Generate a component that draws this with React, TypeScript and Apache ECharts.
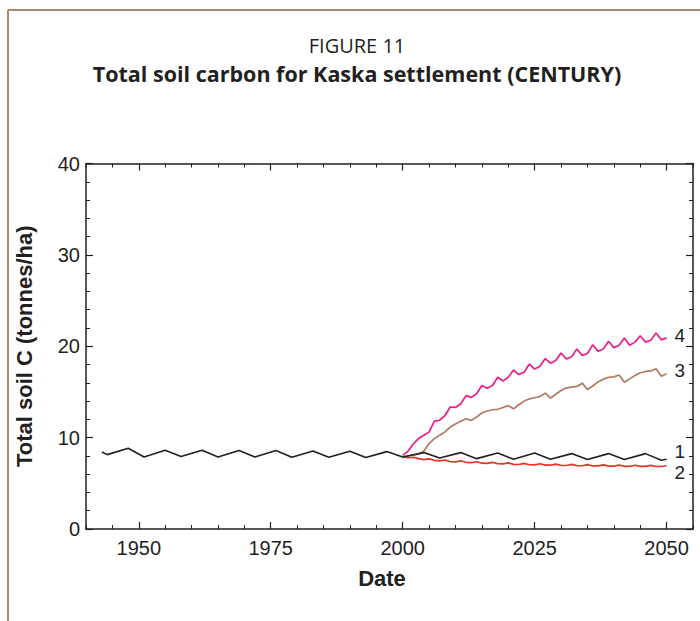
import React, { useEffect, useRef } from "react";
import * as echarts from "echarts";

// Historical (shared) trajectory, vertices of the black line before 2000
const histYears = [1943, 1944, 1948, 1951, 1955, 1958, 1962, 1965, 1969, 1972, 1976, 1979, 1983, 1986, 1990, 1993, 1997];
const histValues = [8.43, 8.14, 8.83, 7.88, 8.61, 7.93, 8.61, 7.88, 8.58, 7.88, 8.58, 7.85, 8.54, 7.85, 8.5, 7.82, 8.47];

// Scenario 1 (black) vertices from 2000
const s1Years = [2000, 2004, 2007, 2011, 2014, 2018, 2021, 2025, 2028, 2032, 2035, 2039, 2042, 2046, 2049, 2050];
const s1Values = [7.88, 8.36, 7.78, 8.36, 7.7, 8.32, 7.63, 8.32, 7.63, 8.25, 7.6, 8.25, 7.6, 8.25, 7.52, 7.63];

// Annual scenarios 2000..2050
const scenYears = Array.from({ length: 51 }, (_, i) => 2000 + i);
const s2Values = [
  7.88, 7.8, 7.85, 7.7, 7.6, 7.68, 7.52, 7.45, 7.55, 7.38, 7.35, 7.45, 7.3, 7.25, 7.36, 7.2, 7.18,
  7.3, 7.15, 7.12, 7.24, 7.08, 7.06, 7.18, 7.03, 7.02, 7.14, 6.99, 6.98, 7.1, 6.96, 6.95, 7.07, 6.93,
  6.92, 7.04, 6.9, 6.9, 7.02, 6.88, 6.88, 7.0, 6.86, 6.86, 6.98, 6.85, 6.85, 6.97, 6.84, 6.84, 6.95,
];
const s3Values = [
  7.88, 7.99, 8.1, 8.2, 8.5, 9.35, 9.89, 10.25, 10.62, 11.16, 11.5, 11.8, 12.07, 11.89, 12.26, 12.69,
  12.91, 13.05, 13.1, 13.3, 13.5, 13.15, 13.6, 14.0, 14.25, 14.36, 14.5, 14.87, 14.32, 14.75, 15.16,
  15.45, 15.53, 15.6, 15.96, 15.27, 15.65, 16.1, 16.4, 16.6, 16.65, 16.85, 16.07, 16.43, 16.8, 17.1,
  17.24, 17.3, 17.53, 16.72, 16.98,
];
const s4Values = [
  8.05, 8.5, 9.3, 9.9, 10.25, 10.6, 11.8, 11.9, 12.4, 13.35, 13.3, 13.7, 14.6, 14.4, 14.8, 15.7, 15.4,
  15.7, 16.6, 16.2, 16.6, 17.4, 16.9, 17.15, 18.05, 17.5, 17.8, 18.65, 18.15, 18.45, 19.25, 18.6, 18.85,
  19.7, 19.0, 19.2, 20.15, 19.45, 19.7, 20.55, 19.85, 20.1, 20.9, 20.1, 20.45, 21.15, 20.45, 20.65,
  21.45, 20.7, 20.92,
];

const xMajorTicks = [1950, 1975, 2000, 2025, 2050];
const seriesNames = ["1", "2", "3", "4"];

const pairs = (xs: number[], ys: number[]) => xs.map((x, i) => [x, ys[i]]);

const INK = "#231f20";

export default function App() {
  const ref = useRef<HTMLDivElement>(null);
  useEffect(() => {
    if (!ref.current) return;
    const chart = echarts.init(ref.current, null, { renderer: "svg" });
    const axisFont = "'Liberation Sans', Arial, sans-serif";
    const titleFont = "'Open Sans', 'Noto Sans', sans-serif";
    const baseX = {
      type: "value",
      min: 1940,
      max: 2055,
      gridIndex: 0,
      splitLine: { show: false },
    };
    const endLabel = (dy: number) => ({
      show: true,
      formatter: "{a}",
      color: INK,
      fontSize: 19,
      lineHeight: 17,
      fontFamily: axisFont,
      offset: [0, dy],
      distance: 8,
    });
    chart.setOption({
      animation: false,
      backgroundColor: "#ffffff",
      title: [
        {
          text: "FIGURE 11",
          left: 357,
          textAlign: "center",
          top: 35,
          padding: 0,
          textStyle: { fontFamily: titleFont, fontWeight: "normal", fontSize: 20, color: INK },
        },
        {
          text: "Total soil carbon for Kaska settlement (CENTURY)",
          left: 357,
          textAlign: "center",
          top: 62,
          padding: 0,
          textStyle: { fontFamily: titleFont, fontWeight: "bold", fontSize: 21.5, color: INK },
        },
      ],
      grid: { left: 86, right: 7, top: 163.5, bottom: 92 },
      xAxis: [
        {
          ...baseX,
          position: "bottom",
          name: "Date",
          nameLocation: "middle",
          nameGap: 38,
          nameTextStyle: { fontFamily: axisFont, fontWeight: "bold", fontSize: 22, color: INK, padding: [0, 15, 0, 0] },
          axisLine: { show: true, lineStyle: { color: INK, width: 1.5 } },
          axisTick: { show: true, inside: true, length: 7, customValues: xMajorTicks, lineStyle: { color: INK, width: 1.2 } },
          axisLabel: {
            show: true,
            customValues: xMajorTicks,
            margin: 9,
            fontFamily: axisFont,
            fontSize: 20,
            color: INK,
            formatter: (v: number) => String(v),
          },
        },
        {
          ...baseX,
          position: "bottom",
          interval: 5,
          axisLine: { show: false },
          axisTick: { show: true, inside: true, length: 4, lineStyle: { color: INK, width: 1 } },
          axisLabel: { show: false },
        },
        {
          ...baseX,
          position: "top",
          axisLine: { show: true, lineStyle: { color: INK, width: 1.5 } },
          axisTick: { show: true, inside: true, length: 7, customValues: xMajorTicks, lineStyle: { color: INK, width: 1.2 } },
          axisLabel: { show: false },
        },
        {
          ...baseX,
          position: "top",
          interval: 5,
          axisLine: { show: false },
          axisTick: { show: true, inside: true, length: 4, lineStyle: { color: INK, width: 1 } },
          axisLabel: { show: false },
        },
      ],
      yAxis: [
        {
          type: "value",
          min: 0,
          max: 40,
          interval: 10,
          position: "left",
          name: "Total soil C (tonnes/ha)",
          nameLocation: "middle",
          nameGap: 51,
          nameTextStyle: { fontFamily: axisFont, fontWeight: "bold", fontSize: 22, color: INK },
          splitLine: { show: false },
          axisLine: { show: true, lineStyle: { color: INK, width: 1.5 } },
          axisTick: { show: true, inside: true, length: 7, lineStyle: { color: INK, width: 1.2 } },
          minorTick: { show: true, splitNumber: 5, length: 4, lineStyle: { color: INK, width: 1 } },
          axisLabel: { show: true, margin: 6, fontFamily: axisFont, fontSize: 20, color: INK },
        },
        {
          type: "value",
          min: 0,
          max: 40,
          interval: 10,
          position: "right",
          splitLine: { show: false },
          axisLine: { show: true, lineStyle: { color: INK, width: 1.5 } },
          axisTick: { show: true, inside: true, length: 7, lineStyle: { color: INK, width: 1.2 } },
          minorTick: { show: true, splitNumber: 5, length: 4, lineStyle: { color: INK, width: 1 } },
          axisLabel: { show: false },
        },
      ],
      graphic: [
        { type: "line", shape: { x1: 8, y1: 10, x2: 700, y2: 10 }, style: { stroke: "#a88a72", lineWidth: 2 } },
        { type: "line", shape: { x1: 8, y1: 10, x2: 8, y2: 621 }, style: { stroke: "#a88a72", lineWidth: 2 } },
      ],
      series: [
        {
          name: seriesNames[1],
          type: "line",
          data: pairs(scenYears, s2Values),
          showSymbol: false,
          lineStyle: { color: "#ee3124", width: 1.7 },
          itemStyle: { color: "#ee3124" },
          endLabel: endLabel(7),
          z: 2,
        },
        {
          name: seriesNames[2],
          type: "line",
          data: pairs(scenYears, s3Values),
          showSymbol: false,
          lineStyle: { color: "#b07a60", width: 1.7 },
          itemStyle: { color: "#b07a60" },
          endLabel: endLabel(-3),
          z: 3,
        },
        {
          name: seriesNames[0],
          type: "line",
          data: [...pairs(histYears, histValues), ...pairs(s1Years, s1Values)],
          showSymbol: false,
          lineStyle: { color: INK, width: 1.6 },
          itemStyle: { color: INK },
          endLabel: endLabel(-8),
          z: 4,
        },
        {
          name: seriesNames[3],
          type: "line",
          data: pairs(scenYears, s4Values),
          showSymbol: false,
          lineStyle: { color: "#ec1e8c", width: 1.7 },
          itemStyle: { color: "#ec1e8c" },
          endLabel: endLabel(-2),
          z: 5,
        },
      ],
    });
    return () => chart.dispose();
  }, []);
  return (
    <div
      ref={ref}
      style={{ position: "fixed", left: 0, top: 0, width: 700, height: 621, background: "#fff" }}
    />
  );
}
